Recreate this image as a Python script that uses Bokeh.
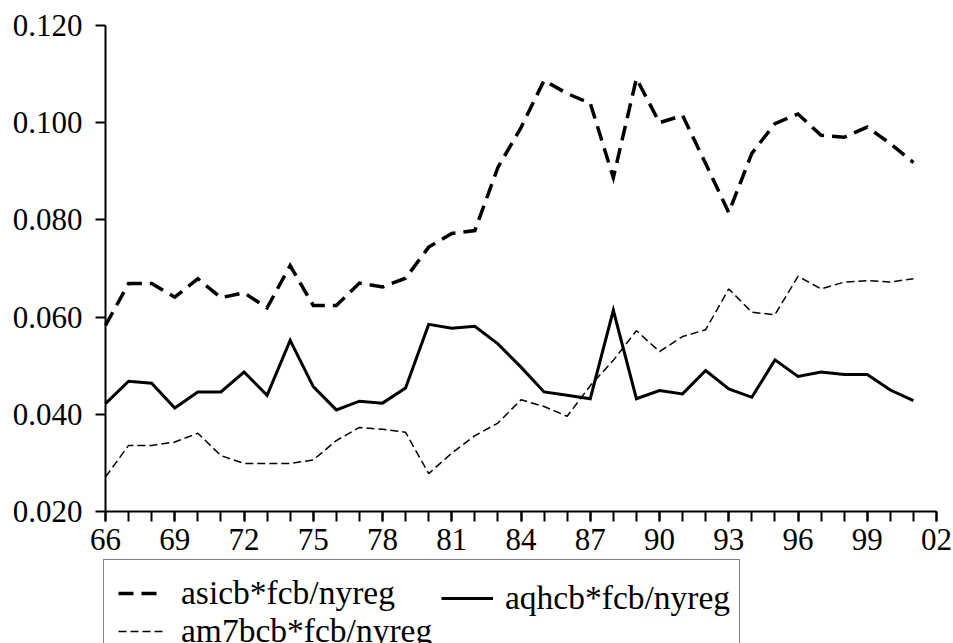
from bokeh.plotting import figure
from bokeh.models import Range1d, FixedTicker, NumeralTickFormatter, Legend, LegendItem
from bokeh.embed import file_html
from bokeh.resources import INLINE

# Annual ratios, 1966-2001
years = list(range(1966, 2002))

asicb = [0.0583, 0.0669, 0.0669, 0.0641, 0.0679, 0.0640, 0.0650, 0.0619, 0.0706, 0.0624,
         0.0624, 0.0670, 0.0662, 0.0680, 0.0744, 0.0772, 0.0778, 0.0908, 0.0990, 0.1087,
         0.1060, 0.1040, 0.0887, 0.1091, 0.1000, 0.1015, 0.0916, 0.0815, 0.0937, 0.0998,
         0.1018, 0.0974, 0.0970, 0.0991, 0.0957, 0.0918]

aqhcb = [0.0422, 0.0468, 0.0464, 0.0413, 0.0446, 0.0446, 0.0487, 0.0439, 0.0552, 0.0457,
         0.0409, 0.0427, 0.0423, 0.0454, 0.0585, 0.0577, 0.0581, 0.0545, 0.0497, 0.0446,
         0.0439, 0.0432, 0.0614, 0.0432, 0.0449, 0.0442, 0.0490, 0.0452, 0.0435, 0.0512,
         0.0478, 0.0487, 0.0482, 0.0482, 0.0450, 0.0428]

am7bcb = [0.0271, 0.0336, 0.0336, 0.0343, 0.0361, 0.0315, 0.0299, 0.0299, 0.0299, 0.0306,
          0.0346, 0.0373, 0.0369, 0.0363, 0.0278, 0.0320, 0.0356, 0.0382, 0.0430, 0.0416,
          0.0396, 0.0459, 0.0511, 0.0572, 0.0529, 0.0560, 0.0574, 0.0658, 0.0610, 0.0605,
          0.0684, 0.0658, 0.0672, 0.0675, 0.0672, 0.0679]

series_names = ["asicb*fcb/nyreg", "aqhcb*fcb/nyreg", "am7bcb*fcb/nyreg"]

x_lo, x_hi = 1966, 2002
x_major = list(range(x_lo, x_hi + 1, 3))
x_minor = list(range(x_lo, x_hi + 1))
x_labels = {y: "%02d" % (y % 100) for y in x_major}
y_lo, y_hi = 0.02, 0.12
y_ticks = [0.02, 0.04, 0.06, 0.08, 0.10, 0.12]

FONT = "Liberation Serif"

# Page geometry (px). The plotting frame fills the whole canvas; both axes
# are pinned at data positions so tick labels and legend sit inside it.
W, H = 953, 643
AX_LEFT, AX_RIGHT = 105, 936      # screen x of 1966 and 2002
AX_TOP, AX_BOTTOM = 25, 511       # screen y of 0.120 and 0.020
px_per_year = (AX_RIGHT - AX_LEFT) / (x_hi - x_lo)
px_per_unit = (AX_BOTTOM - AX_TOP) / (y_hi - y_lo)
x_range = Range1d(x_lo - AX_LEFT / px_per_year, x_hi + (W - AX_RIGHT) / px_per_year)
y_range = Range1d(y_lo - (H - AX_BOTTOM) / px_per_unit, y_hi + AX_TOP / px_per_unit)

p = figure(width=W, height=H, output_backend="svg", toolbar_location=None,
           x_range=x_range, y_range=y_range,
           min_border=0)
p.outline_line_color = None
p.grid.visible = False
p.background_fill_color = "white"
p.border_fill_color = "white"

for ax in (p.xaxis[0], p.yaxis[0]):
    ax.axis_line_width = 2
    ax.axis_line_color = "black"
    ax.major_tick_line_width = 2
    ax.minor_tick_line_width = 2
    ax.major_tick_in = 0
    ax.major_tick_out = 10
    ax.major_label_text_font = FONT
    ax.major_label_text_font_size = "31px"
    ax.major_label_text_color = "black"

p.xaxis.fixed_location = y_lo
p.xaxis.bounds = (x_lo, x_hi)
p.xaxis.ticker = FixedTicker(ticks=x_major, minor_ticks=x_minor)
p.xaxis.major_label_overrides = x_labels
p.xaxis.minor_tick_in = 0
p.xaxis.minor_tick_out = 10
p.xaxis.major_label_standoff = 7

p.yaxis.fixed_location = x_lo
p.yaxis.bounds = (y_lo, y_hi)
p.yaxis.ticker = FixedTicker(ticks=y_ticks, minor_ticks=[])
p.yaxis.formatter = NumeralTickFormatter(format="0.000")
p.yaxis.minor_tick_out = 0
p.yaxis.major_label_standoff = 13

r3 = p.line(years, am7bcb, line_color="black", line_width=1.5, line_dash="8 4")
r2 = p.line(years, aqhcb, line_color="black", line_width=3, line_join="miter")
r1 = p.line(years, asicb, line_color="black", line_width=3.5, line_dash="15 8",
            line_join="miter")

LEG_FONT = "33.5px"

# Boxed legend: first column (asicb, am7bcb); the box spans both columns.
legend_a = Legend(items=[LegendItem(label=series_names[0], renderers=[r1]),
                         LegendItem(label=series_names[2], renderers=[r3])],
                  orientation="vertical", location=(103, -22),
                  label_text_font=FONT, label_text_font_size=LEG_FONT,
                  label_text_color="black",
                  glyph_width=45, glyph_height=20, label_standoff=18,
                  label_width=544, spacing=-7, padding=14, margin=0,
                  border_line_color="black", border_line_width=1.5,
                  background_fill_color="white", background_fill_alpha=1.0)

# Second column of the first row (aqhcb).
legend_b = Legend(items=[LegendItem(label=series_names[1], renderers=[r2])],
                  orientation="vertical", location=(441, 26),
                  label_text_font=FONT, label_text_font_size=LEG_FONT,
                  label_text_color="black",
                  glyph_width=52, glyph_height=20, label_standoff=12,
                  spacing=0, padding=0, margin=0,
                  border_line_color=None, background_fill_alpha=0.0)

p.add_layout(legend_a, "center")
p.add_layout(legend_b, "center")

open("out.html", "w").write(file_html(p, INLINE))
